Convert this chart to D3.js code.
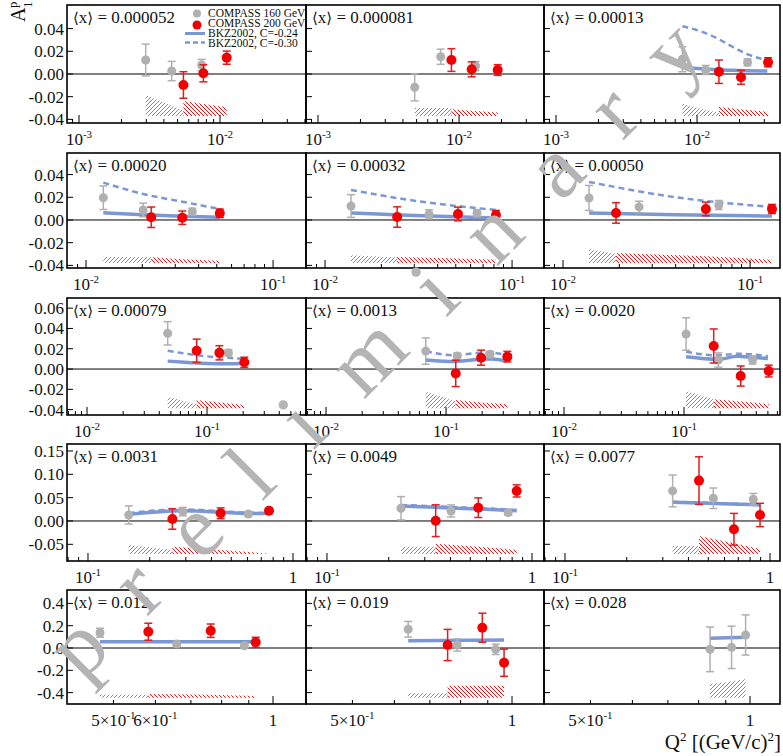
<!DOCTYPE html>
<html>
<head>
<meta charset="utf-8">
<script src="https://cdn.jsdelivr.net/npm/d3@7"></script>
<style>
  body { margin: 0; background: #fff; }
  text { font-family: "Liberation Serif", "DejaVu Serif", serif; fill: #111; }
</style>
</head>
<body>
<svg id="chart" width="783" height="756" font-family="Liberation Serif, DejaVu Serif, serif"></svg>
<script>
// ---- data ----
const xMeans = ['0.000052', '0.000081', '0.00013', '0.00020', '0.00032', '0.00050',
  '0.00079', '0.0013', '0.0020', '0.0031', '0.0049', '0.0077', '0.012', '0.019', '0.028'];

// [Q2, A1p, stat error]
const g160 = [
  [[0.00297, 0.0123, 0.014], [0.00454, 0.0026, 0.0085], [0.00741, 0.0079, 0.005]],
  [[0.00485, -0.0117, 0.012], [0.00741, 0.0152, 0.0067], [0.0131, 0.007, 0.004]],
  [[0.00787, 0.013, 0.011], [0.01153, 0.0035, 0.004], [0.0228, 0.0103, 0.003]],
  [[0.01237, 0.0196, 0.0104], [0.0202, 0.0088, 0.006], [0.037, 0.0073, 0.003]],
  [[0.01377, 0.0123, 0.010], [0.036, 0.005, 0.004], [0.065, 0.006, 0.003]],
  [[0.01377, 0.0194, 0.011], [0.0255, 0.0115, 0.005], [0.068, 0.0132, 0.004]],
  [[0.047, 0.0352, 0.0115], [0.1507, 0.016, 0.003]],
  [[0.0678, 0.0177, 0.013], [0.124, 0.0128, 0.003], [0.233, 0.0145, 0.003]],
  [[0.104, 0.0345, 0.016], [0.193, 0.0089, 0.007], [0.373, 0.0089, 0.004]],
  [[0.158, 0.0129, 0.0195], [0.29, 0.020, 0.009], [0.6053, 0.015, 0.005]],
  [[0.2296, 0.0272, 0.025], [0.4027, 0.0215, 0.013], [0.765, 0.0178, 0.005]],
  [[0.335, 0.0644, 0.034], [0.529, 0.0487, 0.022], [0.829, 0.0465, 0.0125]],
  [[0.4717, 0.137, 0.04], [0.658, 0.036, 0.02], [0.883, 0.02, 0.02]],
  [[0.637, 0.168, 0.07], [0.788, 0.027, 0.055], [0.9316, -0.012, 0.046]],
  [[0.8406, -0.012, 0.20], [0.923, 0.006, 0.19], [0.981, 0.117, 0.18]]
];

const r200 = [
  [[0.0055, -0.0097, 0.0117], [0.00762, 0.0006, 0.0075], [0.01115, 0.0144, 0.0058]],
  [[0.00883, 0.0123, 0.010], [0.0123, 0.0041, 0.0066], [0.0188, 0.0035, 0.0047]],
  [[0.0143, 0.002, 0.0103], [0.0205, -0.0029, 0.0062], [0.0319, 0.0103, 0.004]],
  [[0.0223, 0.0024, 0.009], [0.0327, 0.002, 0.0059], [0.0519, 0.0059, 0.0037]],
  [[0.0243, 0.0026, 0.009], [0.0514, 0.0053, 0.006], [0.082, 0.0044, 0.004]],
  [[0.0192, 0.0062, 0.009], [0.058, 0.0097, 0.006], [0.131, 0.0097, 0.004]],
  [[0.082, 0.018, 0.0115], [0.1268, 0.016, 0.007], [0.2045, 0.0066, 0.005]],
  [[0.1205, -0.0043, 0.013], [0.196, 0.0112, 0.0074], [0.3243, 0.0122, 0.0052]],
  [[0.1767, 0.0227, 0.0168], [0.2966, -0.0069, 0.0099], [0.508, -0.002, 0.0058]],
  [[0.258, 0.0043, 0.022], [0.4436, 0.0165, 0.0115], [0.7638, 0.0221, 0.005]],
  [[0.339, 0.0006, 0.034], [0.547, 0.0285, 0.021], [0.842, 0.0644, 0.013]],
  [[0.4505, 0.0865, 0.051], [0.667, -0.0178, 0.034], [0.894, 0.0129, 0.025]],
  [[0.5818, 0.146, 0.076], [0.763, 0.155, 0.06], [0.9275, 0.051, 0.045]],
  [[0.756, 0.027, 0.14], [0.879, 0.182, 0.13], [0.966, -0.132, 0.122]],
  []
];

// BKZ2002, C=-0.24 (solid)
const bkz024 = [
  [],
  [],
  [[0.00787, 0.0058], [0.0115, 0.0045], [0.0178, 0.0033], [0.0315, 0.0026]],
  [[0.01237, 0.0064], [0.0202, 0.0045], [0.0327, 0.0032], [0.0519, 0.0024]],
  [[0.01377, 0.0062], [0.030, 0.0040], [0.082, 0.0018]],
  [[0.01377, 0.0062], [0.040, 0.0045], [0.131, 0.0035]],
  [[0.047, 0.0078], [0.07, 0.0065], [0.10, 0.0055], [0.15, 0.0052], [0.2045, 0.0058]],
  [[0.068, 0.009], [0.12, 0.0075], [0.19, 0.0095], [0.24, 0.010], [0.32, 0.0078]],
  [[0.104, 0.012], [0.19, 0.0095], [0.28, 0.0125], [0.37, 0.0115], [0.50, 0.0103]],
  [[0.158, 0.014], [0.29, 0.022], [0.44, 0.019], [0.60, 0.016], [0.76, 0.016]],
  [[0.2296, 0.032], [0.40, 0.028], [0.60, 0.025], [0.842, 0.022]],
  [[0.335, 0.040], [0.50, 0.038], [0.70, 0.036], [0.894, 0.0343]],
  [[0.4717, 0.056], [0.9275, 0.055]],
  [[0.637, 0.066], [0.966, 0.072]],
  [[0.8406, 0.087], [0.981, 0.096]]
];

// BKZ2002, C=-0.30 (dashed)
const bkz030 = [
  [],
  [],
  [[0.00787, 0.042], [0.0098, 0.039], [0.0136, 0.032], [0.0178, 0.024], [0.0222, 0.018], [0.0315, 0.012]],
  [[0.01237, 0.0329], [0.0202, 0.0229], [0.0327, 0.0161], [0.0519, 0.0097]],
  [[0.01377, 0.0264], [0.030, 0.017], [0.082, 0.0088]],
  [[0.01377, 0.0335], [0.040, 0.020], [0.131, 0.0115]],
  [[0.047, 0.018], [0.07, 0.0148], [0.10, 0.0125], [0.15, 0.011], [0.2045, 0.010]],
  [[0.068, 0.0175], [0.12, 0.0135], [0.19, 0.016], [0.24, 0.016], [0.32, 0.0135]],
  [[0.104, 0.017], [0.19, 0.0135], [0.28, 0.015], [0.37, 0.0145], [0.50, 0.0125]],
  [[0.158, 0.017], [0.29, 0.025], [0.44, 0.021], [0.60, 0.018], [0.76, 0.017]],
  [[0.2296, 0.0345], [0.40, 0.030], [0.60, 0.027], [0.842, 0.0235]],
  [[0.335, 0.041], [0.50, 0.039], [0.70, 0.037], [0.894, 0.035]],
  [], [], []
];

// systematic bands: [Q2, upper edge]; lower edge is sysBase of the row
const sys160 = [
  [[0.00297, -0.0185], [0.00454, -0.028], [0.0055, -0.032]],
  [[0.00485, -0.030], [0.00741, -0.030], [0.00883, -0.030]],
  [[0.00787, -0.026], [0.01153, -0.032], [0.0143, -0.034]],
  [[0.01237, -0.0323], [0.0202, -0.0328], [0.0223, -0.033]],
  [[0.01377, -0.031], [0.0243, -0.033]],
  [[0.01377, -0.0256], [0.0192, -0.030]],
  [[0.047, -0.0273], [0.082, -0.035]],
  [[0.0678, -0.0224], [0.1205, -0.032]],
  [[0.104, -0.0217], [0.1767, -0.030]],
  [[0.158, -0.0515], [0.258, -0.062]],
  [[0.2296, -0.055], [0.339, -0.055]],
  [[0.335, -0.0536], [0.4505, -0.0536]],
  [[0.4717, -0.42], [0.5818, -0.42]],
  [[0.637, -0.406], [0.756, -0.406]],
  [[0.8406, -0.323], [0.923, -0.30], [0.981, -0.278]]
];
const sys200 = [
  [[0.0055, -0.0238], [0.00762, -0.0265], [0.01115, -0.0293]],
  [[0.00883, -0.031], [0.0123, -0.0325], [0.0188, -0.034]],
  [[0.0143, -0.029], [0.0205, -0.031], [0.0319, -0.0335]],
  [[0.0223, -0.0329], [0.0327, -0.0345], [0.0519, -0.0359]],
  [[0.0243, -0.0326], [0.0514, -0.034], [0.082, -0.035]],
  [[0.0192, -0.029], [0.058, -0.032], [0.131, -0.035]],
  [[0.082, -0.0305], [0.1268, -0.033], [0.2045, -0.0355]],
  [[0.1205, -0.0305], [0.196, -0.033], [0.3243, -0.0348]],
  [[0.1767, -0.0299], [0.2966, -0.032], [0.508, -0.0345]],
  [[0.258, -0.055], [0.4436, -0.062], [0.7638, -0.070]],
  [[0.339, -0.049], [0.547, -0.055], [0.842, -0.062]],
  [[0.4505, -0.032], [0.667, -0.048], [0.894, -0.060]],
  [[0.5818, -0.413], [0.763, -0.42], [0.9275, -0.43]],
  [[0.756, -0.338], [0.879, -0.338], [0.966, -0.338]],
  []
];
const sysBase = [-0.037, -0.038, -0.0387, -0.071, -0.445];

// axes per row
const xDomains = [[8.22e-4, 0.0407], [0.00791, 0.150], [0.00681, 0.668], [0.0790, 1.157], [0.4087, 1.154]];
const yDomains = [[-0.0432, 0.0608], [-0.0423, 0.059], [-0.0453, 0.070], [-0.0858, 0.165], [-0.502, 0.52]];
const yTicks = [
  [-0.04, -0.02, 0, 0.02, 0.04],
  [-0.04, -0.02, 0, 0.02, 0.04],
  [-0.04, -0.02, 0, 0.02, 0.04, 0.06],
  [-0.05, 0, 0.05, 0.10, 0.15],
  [-0.4, -0.2, 0, 0.2, 0.4]
];
const yDecimals = [2, 2, 2, 2, 1];
const xTickLabels = [[0.001, 0.01], [0.01, 0.1], [0.01, 0.1], [0.1, 1], [0.5, 0.6, 1]];
const xTickLabelsLastRowRight = [0.5, 1];
const legendNames = ['COMPASS 160 GeV', 'COMPASS 200 GeV', 'BKZ2002, C=-0.24', 'BKZ2002, C=-0.30'];

// ---- layout ----
const colL = [67, 306, 544], colR = [306, 544, 780], panelW = 239;
const rowT = [5, 153, 298, 444, 590], rowB = [123, 268, 415, 561, 704];

const grey = '#b0b0b0', red = '#f20000', redBar = '#e01c1c', blue = '#7b98d4';

const svg = d3.select('#chart');
const defs = svg.append('defs');

defs.append('pattern').attr('id', 'hatchG')
  .attr('patternUnits', 'userSpaceOnUse').attr('width', 4).attr('height', 4)
  .append('path').attr('d', 'M-1,1 l2,-2 M0,4 l4,-4 M3,5 l2,-2')
  .attr('stroke', '#8a8a8a').attr('stroke-width', 1);
defs.append('pattern').attr('id', 'hatchR')
  .attr('patternUnits', 'userSpaceOnUse').attr('width', 4).attr('height', 4)
  .append('path').attr('d', 'M-1,3 l2,2 M0,0 l4,4 M3,-1 l2,2')
  .attr('stroke', '#ee1010').attr('stroke-width', 1);

function tickLabel(sel, v) {
  if (Math.abs(v - 1) < 1e-9) { sel.append('tspan').text('1'); return; }
  const k = Math.floor(Math.log10(v) + 1e-9);
  const m = Math.round(v / Math.pow(10, k));
  sel.append('tspan').text(m === 1 ? '10' : m + '×10');
  sel.append('tspan').attr('dy', -7).attr('font-size', 11).text(String(k));
}

function drawPoints(g, x, y, pts, fill, bar, rad) {
  const gp = g.append('g');
  pts.forEach(d => {
    const cx = x(d[0]);
    gp.append('line').attr('x1', cx).attr('x2', cx)
      .attr('y1', y(d[1] - d[2])).attr('y2', y(d[1] + d[2]))
      .attr('stroke', bar).attr('stroke-width', 1.5);
    [d[1] - d[2], d[1] + d[2]].forEach(e => {
      gp.append('line').attr('x1', cx - 4).attr('x2', cx + 4)
        .attr('y1', y(e)).attr('y2', y(e))
        .attr('stroke', bar).attr('stroke-width', 1.5);
    });
  });
  gp.selectAll('circle').data(pts).enter().append('circle')
    .attr('cx', d => x(d[0])).attr('cy', d => y(d[1])).attr('r', rad)
    .attr('fill', fill);
}

for (let p = 0; p < 15; p++) {
  const r = Math.floor(p / 3), c = p % 3;
  const L = colL[c], R = colR[c], T = rowT[r], B = rowB[r];

  const x = d3.scaleLog().domain(xDomains[r]).range([L, L + panelW]);
  const y = d3.scaleLinear().domain(yDomains[r]).range([B, T]);

  defs.append('clipPath').attr('id', 'clip' + p)
    .append('rect').attr('x', L).attr('y', T).attr('width', R - L).attr('height', B - T);

  const g = svg.append('g');
  const plot = g.append('g').attr('clip-path', `url(#clip${p})`);

  // systematic bands
  const area = d3.area().x(d => x(d[0])).y0(y(sysBase[r])).y1(d => y(d[1]));
  if (sys160[p].length) plot.append('path').attr('d', area(sys160[p])).attr('fill', 'url(#hatchG)');
  if (sys200[p].length) plot.append('path').attr('d', area(sys200[p])).attr('fill', 'url(#hatchR)');

  // zero line
  plot.append('line').attr('x1', L).attr('x2', R).attr('y1', y(0)).attr('y2', y(0))
    .attr('stroke', '#000').attr('stroke-width', 1);

  // model curves
  const line = d3.line().x(d => x(d[0])).y(d => y(d[1])).curve(d3.curveMonotoneX);
  if (bkz024[p].length) plot.append('path').attr('d', line(bkz024[p]))
    .attr('fill', 'none').attr('stroke', blue).attr('stroke-width', 3.5);
  if (bkz030[p].length) plot.append('path').attr('d', line(bkz030[p]))
    .attr('fill', 'none').attr('stroke', blue).attr('stroke-width', 2.5)
    .attr('stroke-dasharray', '6,4');

  // data points
  drawPoints(plot, x, y, g160[p], grey, grey, 4.5);
  drawPoints(plot, x, y, r200[p], red, redBar, 5);

  // x ticks (log, inward)
  const [lo, hi] = xDomains[r];
  for (let k = Math.floor(Math.log10(lo)); k <= Math.ceil(Math.log10(hi)); k++) {
    for (let m = 1; m <= 9; m++) {
      const v = m * Math.pow(10, k), px = x(v);
      if (px < L + 1 || px > R - 1) continue;
      const len = m === 1 ? 8 : 4;
      g.append('line').attr('x1', px).attr('x2', px).attr('y1', B).attr('y2', B - len)
        .attr('stroke', '#000').attr('stroke-width', 1);
    }
  }
  const labs = (r === 4 && c > 0) ? xTickLabelsLastRowRight : xTickLabels[r];
  labs.forEach(v => {
    const t = g.append('text').attr('x', x(v)).attr('y', B + 22)
      .attr('text-anchor', 'middle').attr('font-size', 17);
    tickLabel(t, v);
  });

  // y ticks
  yTicks[r].forEach(v => {
    g.append('line').attr('x1', L).attr('x2', L + 6).attr('y1', y(v)).attr('y2', y(v))
      .attr('stroke', '#000').attr('stroke-width', 1);
    if (c === 0) {
      g.append('text').attr('x', 64).attr('y', y(v)).attr('dy', '0.35em')
        .attr('text-anchor', 'end').attr('font-size', 17)
        .text(v.toFixed(yDecimals[r]).replace('−', '-'));
    }
  });

  // frame
  g.append('rect').attr('x', L).attr('y', T).attr('width', R - L).attr('height', B - T)
    .attr('fill', 'none').attr('stroke', '#000').attr('stroke-width', 1.6);

  // panel label
  const pl = g.append('text').attr('x', L + 6).attr('y', T + 18).attr('font-size', 17);
  pl.append('tspan').attr('font-family', 'DejaVu Serif').attr('font-size', 15).text('⟨');
  pl.append('tspan').text('x');
  pl.append('tspan').attr('font-family', 'DejaVu Serif').attr('font-size', 15).text('⟩');
  pl.append('tspan').text(' = ' + xMeans[p]);
}

// legend (first panel)
const lg = svg.append('g').attr('font-size', 11.5);
lg.append('circle').attr('cx', 197).attr('cy', 13.5).attr('r', 4).attr('fill', grey);
lg.append('circle').attr('cx', 197).attr('cy', 25).attr('r', 4.5).attr('fill', red);
lg.append('line').attr('x1', 185).attr('x2', 205).attr('y1', 33.5).attr('y2', 33.5)
  .attr('stroke', blue).attr('stroke-width', 3);
lg.append('line').attr('x1', 185).attr('x2', 205).attr('y1', 42.5).attr('y2', 42.5)
  .attr('stroke', blue).attr('stroke-width', 2.5).attr('stroke-dasharray', '5,3');
legendNames.forEach((n, i) => {
  lg.append('text').attr('x', 208).attr('y', 17 + i * 10).attr('fill', '#222').text(n);
});

// axis titles
const yt = svg.append('g').attr('transform', 'translate(25,22) rotate(-90)');
yt.append('text').attr('font-size', 20).text('A');
yt.append('text').attr('x', 14).attr('y', -8).attr('font-size', 13).text('p');
yt.append('text').attr('x', 14).attr('y', 7).attr('font-size', 13).text('1');

const xt = svg.append('text').attr('x', 781).attr('y', 749).attr('text-anchor', 'end').attr('font-size', 21);
xt.append('tspan').text('Q');
xt.append('tspan').attr('dy', -8).attr('font-size', 13).text('2');
xt.append('tspan').attr('dy', 8).text(' [(GeV/c)');
xt.append('tspan').attr('dy', -8).attr('font-size', 13).text('2');
xt.append('tspan').attr('dy', 8).text(']');

// "preliminary" watermark
svg.append('text')
  .attr('transform', 'translate(82,682) rotate(-45)')
  .attr('font-size', 88)
  .attr('textLength', 885).attr('lengthAdjust', 'spacing')
  .style('fill', '#b4b4b4')
  .text('preliminary');
</script>
</body>
</html>
